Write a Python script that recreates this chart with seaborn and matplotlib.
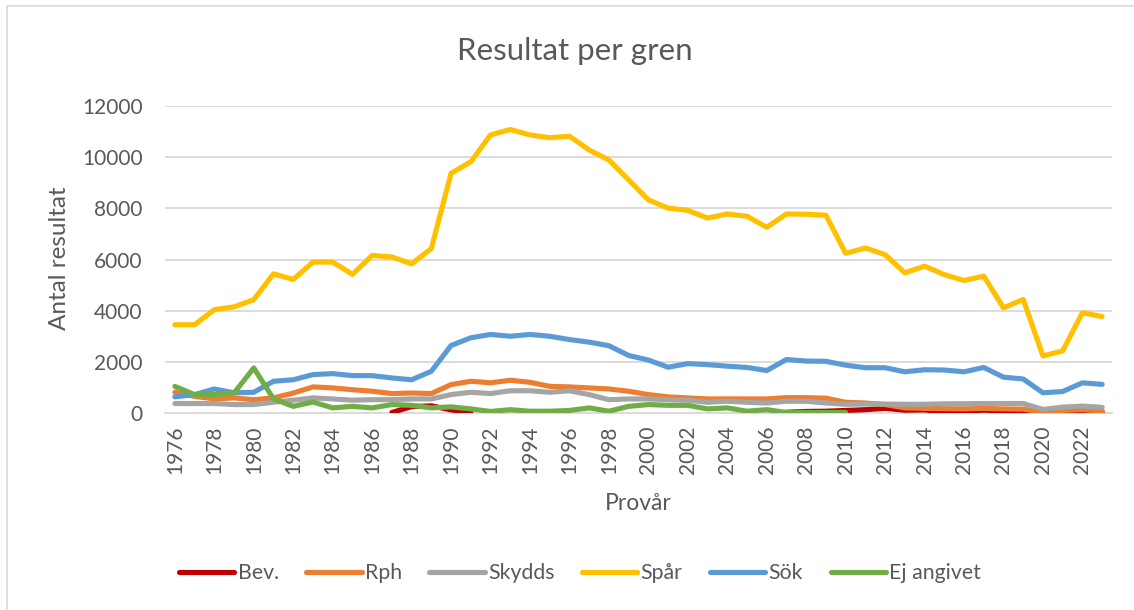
import numpy as np
import pandas as pd
import matplotlib
matplotlib.use("Agg")
import matplotlib.pyplot as plt
from matplotlib.lines import Line2D
from matplotlib.patches import Rectangle
import seaborn as sns

nan = np.nan
years = list(range(1976, 2024))
series_names = ["Bev.", "Rph", "Skydds", "Spår", "Sök", "Ej angivet"]

bev = [nan] * 11 + [20, 250, 280, 120, 30] + [nan] * 15 + \
      [30, 60, 70, 100, 130, 180, 110, 120, 50, 80, 110, 90, 60, 20, 30, 60, 60]
rph = [810, 650, 550, 590, 520, 590, 780, 1020, 980, 910, 850, 760, 780, 760, 1110, 1240,
       1180, 1280, 1200, 1040, 1020, 980, 940, 850, 720, 630, 590, 550, 550, 550, 550, 600,
       600, 580, 420, 390, 330, 200, 180, 170, 160, 180, 160, 150, 30, 100, 130, 70]
skydds = [370, 370, 370, 330, 330, 420, 500, 590, 550, 500, 520, 520, 550, 550, 720, 810,
          760, 870, 870, 810, 870, 720, 520, 550, 550, 520, 500, 420, 460, 420, 390, 460,
          460, 390, 340, 350, 350, 340, 340, 360, 360, 370, 370, 370, 140, 230, 270, 220]
spar = [3450, 3450, 4040, 4150, 4430, 5440, 5220, 5900, 5900, 5420, 6160, 6100, 5830, 6430,
        9370, 9820, 10870, 11080, 10870, 10760, 10820, 10280, 9890, 9110, 8330, 8010, 7920,
        7620, 7780, 7690, 7260, 7780, 7770, 7730, 6240, 6450, 6190, 5480, 5740, 5410, 5180,
        5350, 4110, 4440, 2230, 2430, 3920, 3770]
sok = [630, 720, 940, 790, 810, 1240, 1300, 1500, 1540, 1460, 1460, 1370, 1300, 1630, 2640,
       2940, 3070, 3000, 3070, 3000, 2870, 2770, 2630, 2250, 2070, 1790, 1930, 1890, 1830,
       1780, 1660, 2090, 2030, 2020, 1870, 1770, 1770, 1610, 1690, 1680, 1610, 1780, 1400,
       1330, 790, 840, 1180, 1120]
ej = [1040, 720, 720, 780, 1760, 550, 260, 430, 200, 260, 200, 330, 300, 200, 240, 160, 60,
      130, 70, 70, 100, 200, 70, 260, 330, 300, 300, 160, 200, 70, 130, 20, 20, 20, 20] + [nan] * 13

colors = ["#C00000", "#ED7D31", "#A5A5A5", "#FFC000", "#5B9BD5", "#70AD47"]
yticks = [0, 2000, 4000, 6000, 8000, 10000, 12000]
xticks = list(range(1976, 2023, 2))

# long-form table, with segment ids so that gaps stay gaps
rows = []
for name, vals in zip(series_names, [bev, rph, skydds, spar, sok, ej]):
    seg = 0
    prev_nan = True
    for y, v in zip(years, vals):
        if np.isnan(v):
            prev_nan = True
            continue
        if prev_nan:
            seg += 1
            prev_nan = False
        rows.append({"year": y, "value": v, "series": name, "seg": seg})
df = pd.DataFrame(rows)

sns.set_theme(style="white")
plt.rcParams["font.family"] = ["Lato", "DejaVu Sans"]
txt = "#595959"

W, H = 1134, 610
fig = plt.figure(figsize=(W / 100, H / 100), dpi=100)
fig.patch.set_facecolor("white")

# outer chart frame (top and left edges visible)
fig.patches.append(Rectangle((7 / W, -0.2), 1.5, 1.2 - 6 / H,
                             transform=fig.transFigure, fill=False,
                             edgecolor="#D9D9D9", lw=1.2, zorder=0))

ax = fig.add_axes([165 / W, (H - 413) / H, 947 / W, 307 / H])

sns.lineplot(data=df, x="year", y="value", hue="series", units="seg",
             estimator=None, hue_order=series_names, palette=colors,
             sort=True, legend=False, ax=ax, lw=3.7,
             solid_capstyle="round", solid_joinstyle="round")

ax.set_xlim(1975.5, 2023.5)
ax.set_ylim(0, 12000)
ax.set_yticks(yticks)
ax.set_yticklabels([str(t) for t in yticks])
ax.set_xticks(xticks)
ax.set_xticklabels([str(t) for t in xticks], rotation=90)
ax.tick_params(axis="y", length=0, pad=16, labelsize=15, labelcolor=txt)
ax.tick_params(axis="x", length=0, pad=9, labelsize=15, labelcolor=txt)

ax.yaxis.grid(True, color="#D9D9D9", lw=1.3)
ax.xaxis.grid(False)
ax.set_axisbelow(True)
for s in ["top", "right", "left"]:
    ax.spines[s].set_visible(False)
ax.spines["bottom"].set_color("#D9D9D9")
ax.spines["bottom"].set_linewidth(1.3)
ax.spines["bottom"].set_zorder(0.5)

ax.set_xlabel("Provår", fontsize=16.5, color=txt)
ax.xaxis.set_label_coords(0.5, -(503 - 413) / 307)
ax.xaxis.label.set_va("center")
ax.set_ylabel("Antal resultat", fontsize=17.5, color=txt)
ax.yaxis.set_label_coords(-(165 - 60) / 947, 0.505)
ax.yaxis.label.set_va("center")
ax.yaxis.label.set_ha("center")

fig.text(575 / W, 1 - 51 / H, "Resultat per gren", fontsize=22.5, color=txt,
         ha="center", va="center")

handles = [Line2D([0], [0], color=c, lw=3.7, solid_capstyle="round") for c in colors]
fig.legend(handles, series_names, loc="center", ncol=6,
           bbox_to_anchor=(580 / W, 1 - 573 / H), frameon=False,
           fontsize=15.3, labelcolor=txt, handlelength=2.6, handletextpad=0.15,
           columnspacing=1.3)

fig.savefig("out.png", dpi=100, facecolor="white")
